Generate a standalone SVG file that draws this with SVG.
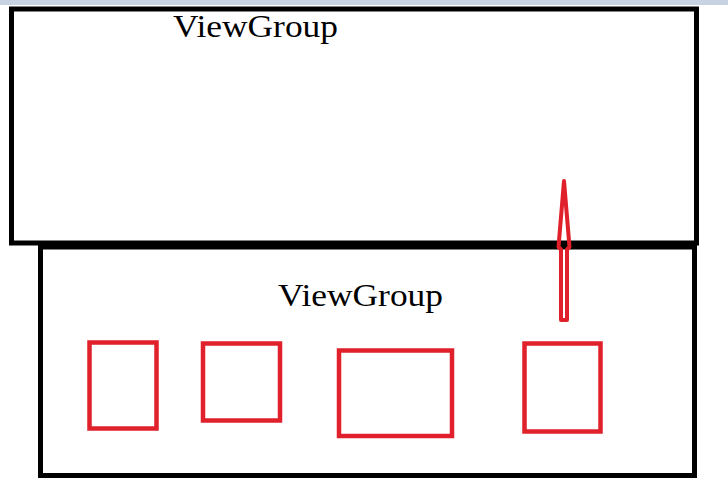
<svg xmlns="http://www.w3.org/2000/svg" width="728" height="490" viewBox="0 0 728 490">
<style>
.box{fill:none;stroke:#000;stroke-width:5}
.child{fill:none;stroke:#e0202a;stroke-width:4.5}
.lbl{font-family:"Liberation Serif","DejaVu Serif",serif;font-size:32px;fill:#000}
</style>
<rect x="0" y="0" width="728" height="490" fill="#fff"/>
<rect x="0" y="0" width="728" height="5" fill="#c9d2e2"/>
<g id="outer-top">
<rect class="box" x="11.5" y="9" width="685" height="234"/>
<text class="lbl" x="173" y="37" textLength="165" lengthAdjust="spacingAndGlyphs">ViewGroup</text>
</g>
<g id="outer-bottom">
<rect class="box" x="40.5" y="247" width="654" height="228.5"/>
<text class="lbl" x="278" y="306" textLength="165" lengthAdjust="spacingAndGlyphs">ViewGroup</text>
</g>
<g id="child1"><rect class="child" x="89.5" y="342.5" width="67" height="86"/></g>
<g id="child2"><rect class="child" x="203" y="343.5" width="77" height="77"/></g>
<g id="child3"><rect class="child" x="339" y="350.5" width="113" height="85.5"/></g>
<g id="child4"><rect class="child" x="524.5" y="343.5" width="76" height="88"/></g>
<g id="connectors">
<path d="M564,181 L558.5,247 L561,249.5 L561,320 L567,320 L567,249.5 L569.5,247 Z" fill="none" stroke="#e0202a" stroke-width="4" stroke-linejoin="round"/>
</g>
</svg>
